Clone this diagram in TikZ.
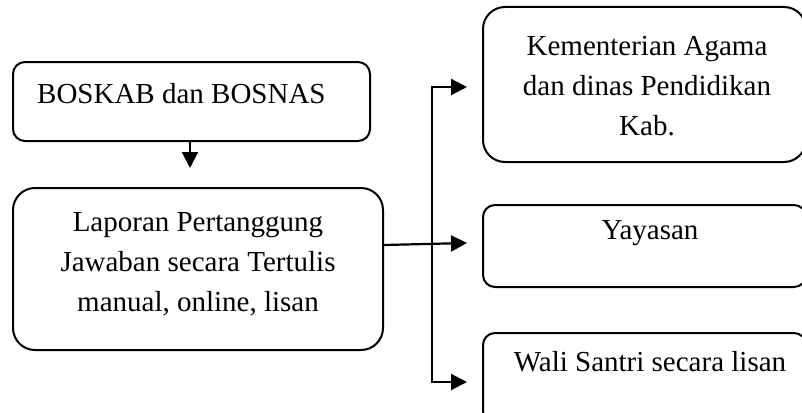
\documentclass[tikz,border=0pt]{standalone}
\usepackage{fontspec}
\setmainfont{Liberation Serif}
\usetikzlibrary{arrows.meta}
\begin{document}
\begin{tikzpicture}[x=1pt,y=-1pt,
  box/.style={draw=black,line width=2pt,rectangle,inner sep=0pt},
  txt/.style={inner sep=0pt,align=center,font=\fontsize{29}{40}\selectfont},
  conn/.style={line width=2.2pt},
  arr/.style={line width=2.2pt,-{Triangle[length=16pt,width=16pt]}}]
\clip (0,0) rectangle (802,412);
\fill[white] (0,0) rectangle (802,412);
% boxes
\node[box,rounded corners=12pt,minimum width=357pt,minimum height=79pt] (b1) at (191.5,101.5) {};
\node[box,rounded corners=22pt,minimum width=370pt,minimum height=162pt] (b2) at (198,269) {};
\node[box,rounded corners=22pt,minimum width=323pt,minimum height=155pt] (b3) at (644.5,84.5) {};
\node[box,rounded corners=12pt,minimum width=323pt,minimum height=82pt] (b4) at (644.5,246) {};
\node[box,rounded corners=12pt,minimum width=323pt,minimum height=90pt] (b5) at (644.5,378) {};
% texts
\node[txt,anchor=west] (t1) at (37,94) {BOSKAB dan BOSNAS};
\node[txt] (t2) at (198,264) {Laporan Pertanggung\\Jawaban secara Tertulis\\manual, online, lisan};
\node[txt] (t3) at (647,86) {Kementerian Agama\\dan dinas Pendidikan\\Kab.};
\node[txt] (t4) at (650,233) {Yayasan};
\node[txt] (t5) at (650,362) {Wali Santri secara lisan};
% connectors
\coordinate (d1) at (190,168);
\draw[arr] (b1.south -| d1) -- (d1);
\coordinate (jt) at (432,87);
\coordinate (jb) at (432,382);
\coordinate (e2) at (b2.east |- 0,245);
\draw[arr] (e2) -- ([xshift=-15pt]b4.west |- 0,243);
\draw[conn] (jt) -- (jb);
\draw[arr] ([xshift=-1.1pt]jt) -- ([xshift=-15pt]b3.west |- jt);
\draw[arr] ([xshift=-1.1pt]jb) -- ([xshift=-15pt]b5.west |- jb);
\end{tikzpicture}
\end{document}
